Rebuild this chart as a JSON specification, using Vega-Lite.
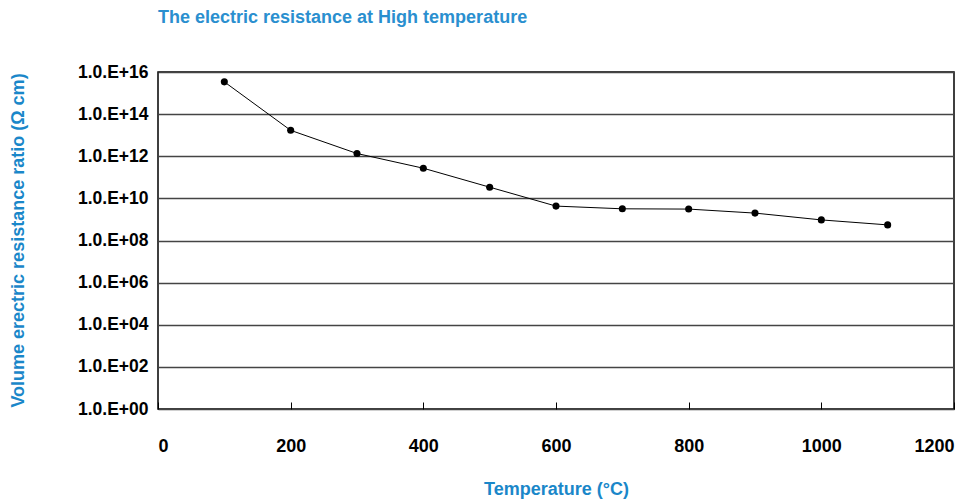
{
  "$schema": "https://vega.github.io/schema/vega-lite/v6.json",
  "autosize": "none",
  "width": 796,
  "height": 337,
  "padding": {"left": 158, "top": 72, "right": 25, "bottom": 93},
  "background": "white",
  "title": {
    "text": "The electric resistance at High temperature",
    "anchor": "start",
    "frame": "group",
    "offset": 36,
    "font": "Liberation Sans",
    "fontSize": 18,
    "fontWeight": "bold",
    "color": "#2a8fcf"
  },
  "config": {
    "view": {"stroke": "#000000", "strokeWidth": 1.5},
    "axis": {
      "labelFont": "Liberation Sans",
      "labelFontSize": 17.5,
      "labelFontWeight": "bold",
      "labelColor": "#000000",
      "titleFont": "Liberation Sans",
      "titleFontSize": 18,
      "titleFontWeight": "bold",
      "titleColor": "#1a87c9"
    }
  },
  "data": {
    "values": [
      {"t": 100, "r": 3.4e15},
      {"t": 200, "r": 1.7e13},
      {"t": 300, "r": 1.35e12},
      {"t": 400, "r": 2.7e11},
      {"t": 500, "r": 3.4e10},
      {"t": 600, "r": 4.3e9},
      {"t": 700, "r": 3.2e9},
      {"t": 800, "r": 3.1e9},
      {"t": 900, "r": 2.0e9},
      {"t": 1000, "r": 9.5e8},
      {"t": 1100, "r": 5.5e8}
    ]
  },
  "encoding": {
    "x": {
      "field": "t",
      "type": "quantitative",
      "scale": {"domain": [0, 1200], "nice": false},
      "axis": {
        "title": "Temperature (°C)",
        "values": [0, 200, 400, 600, 800, 1000, 1200],
        "format": "d",
        "labelFontSize": 18,
        "grid": false,
        "domain": false,
        "tickSize": -7,
        "tickColor": "#000000",
        "tickWidth": 1,
        "labelPadding": 35,
        "titleY": 80,
        "titleBaseline": "middle",
        "titleAnchor": "middle"
      }
    },
    "y": {
      "field": "r",
      "type": "quantitative",
      "scale": {"type": "log", "domain": [1, 1e16], "nice": false},
      "axis": {
        "title": "Volume erectric resistance ratio (Ω cm)",
        "values": [1, 1e2, 1e4, 1e6, 1e8, 1e10, 1e12, 1e14, 1e16],
        "labelExpr": "'1.0.E+' + (round(log(datum.value)/LN10) < 10 ? '0' : '') + round(log(datum.value)/LN10)",
        "grid": true,
        "gridColor": "#444444",
        "gridWidth": 1.5,
        "gridOpacity": 1,
        "ticks": false,
        "domain": false,
        "labelPadding": 10,
        "titleX": -140,
        "titleY": 168,
        "titleAngle": -90,
        "titleAlign": "center",
        "titleBaseline": "middle",
        "titleAnchor": "middle"
      }
    }
  },
  "layer": [
    {"mark": {"type": "line", "color": "#000000", "strokeWidth": 1}},
    {"mark": {"type": "point", "filled": true, "color": "#000000", "opacity": 1, "size": 50}}
  ]
}
